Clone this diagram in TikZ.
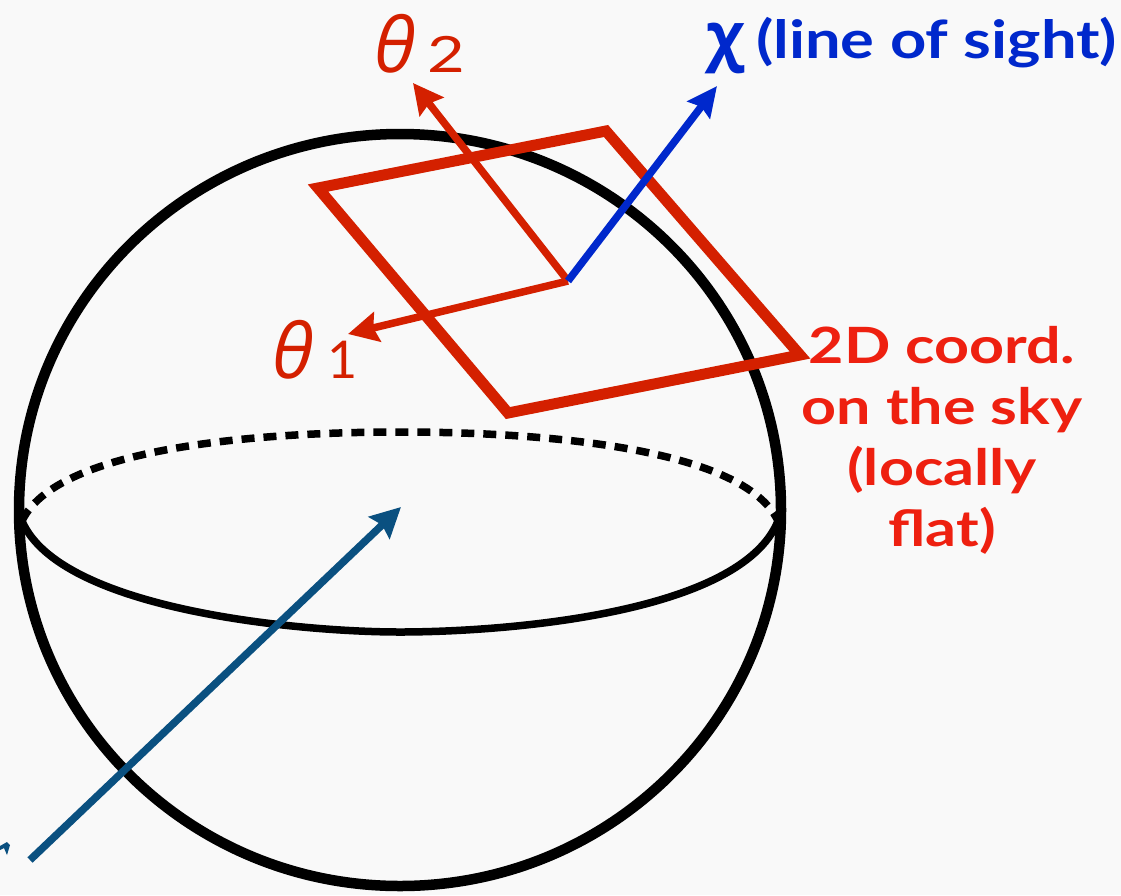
\documentclass[tikz,border=0pt]{standalone}
\usepackage{fontspec}
\setmainfont{Lato}
\newfontfamily\grkfont{Open Sans}
\usetikzlibrary{arrows.meta}
\definecolor{bgc}{HTML}{F9F9F9}
\definecolor{skyred}{HTML}{D42000}
\definecolor{txtred}{HTML}{EE2010}
\definecolor{losblue}{HTML}{0028CC}
\definecolor{radblue}{HTML}{0A5080}
\tikzset{
  sphereline/.style={line width=10.5pt, black},
  eqline/.style={line width=7.5pt, black},
  eqdash/.style={line width=7.5pt, black, dash pattern=on 13pt off 9pt},
  skyplane/.style={line width=11pt, skyred, line join=miter},
  axisarrow/.style={line width=7.5pt, -{Stealth[length=30pt, width=30pt, inset=4pt]}},
  thetalabel/.style={text=skyred, inner sep=0pt, anchor=base west},
  bigtext/.style={font=\bfseries\fontsize{50}{61}\selectfont, inner sep=0pt},
}
\begin{document}
\begin{tikzpicture}[x=1pt, y=-1pt]
\fill[bgc] (0,0) rectangle (1121,895);
\useasboundingbox (0,0) rectangle (1121,895);

% sphere
\coordinate (c) at (400,510);
\draw[sphereline] (c) ellipse [x radius=381, y radius=376];
% equator
\coordinate (eqL) at (22,521);
\coordinate (eqR) at (778,521);
\draw[eqdash] (eqL) .. controls (60,440) and (300,432) .. (400,432) .. controls (500,432) and (740,440) .. (eqR);
\draw[eqline] (eqL) .. controls (60,610) and (300,632) .. (400,632) .. controls (500,632) and (740,615) .. (eqR);

% radial arrow
\coordinate (obs) at (30,860);
\coordinate (ctr) at (401,507);
\draw[axisarrow, radblue] (obs) -- (ctr);
\fill[radblue] (0,846) -- (7,842) -- (10,845) -- (7,855) -- (4,848) -- (0,850) -- cycle;

% sky plane
\coordinate (p1) at (318,188);
\coordinate (p2) at (606,131);
\coordinate (p3) at (800,355);
\coordinate (p4) at (508,413);
\draw[skyplane] (p1) -- (p2) -- (p3) -- (p4) -- cycle;

% axes
\coordinate (o) at (568,281);
\coordinate (t2) at (413,83);
\coordinate (t1) at (348,334);
\coordinate (chi) at (717,86);
\draw[axisarrow, skyred] (o) -- (t2);
\draw[axisarrow, skyred] (o) -- (t1);
\draw[axisarrow, losblue, -{Stealth[length=30pt, width=28pt, inset=4pt]}] (o) -- (chi);

% labels
\node[thetalabel] (lt2) at (374,72) {{\grkfont\itshape\fontsize{76}{80}\selectfont θ}\hspace{12pt}\scalebox{1.3}[1]{\fontsize{50}{50}\selectfont 2}};
\node[thetalabel] (lt1) at (272,378) {{\grkfont\itshape\fontsize{76}{80}\selectfont θ}\hspace{14pt}{\fontsize{52}{50}\selectfont 1}};
\node[bigtext, text=losblue, anchor=base west] (lchi) at (706,58) {{\grkfont\bfseries\fontsize{64}{62}\selectfont χ}\hspace{12pt}\scalebox{1.265}[1.05]{(line of sight)}};
\node[bigtext, text=txtred, align=center, anchor=north, xscale=1.22] (lsky) at (942,326) {2D coord.\\on the sky\\(locally\\flat)};
\end{tikzpicture}
\end{document}
